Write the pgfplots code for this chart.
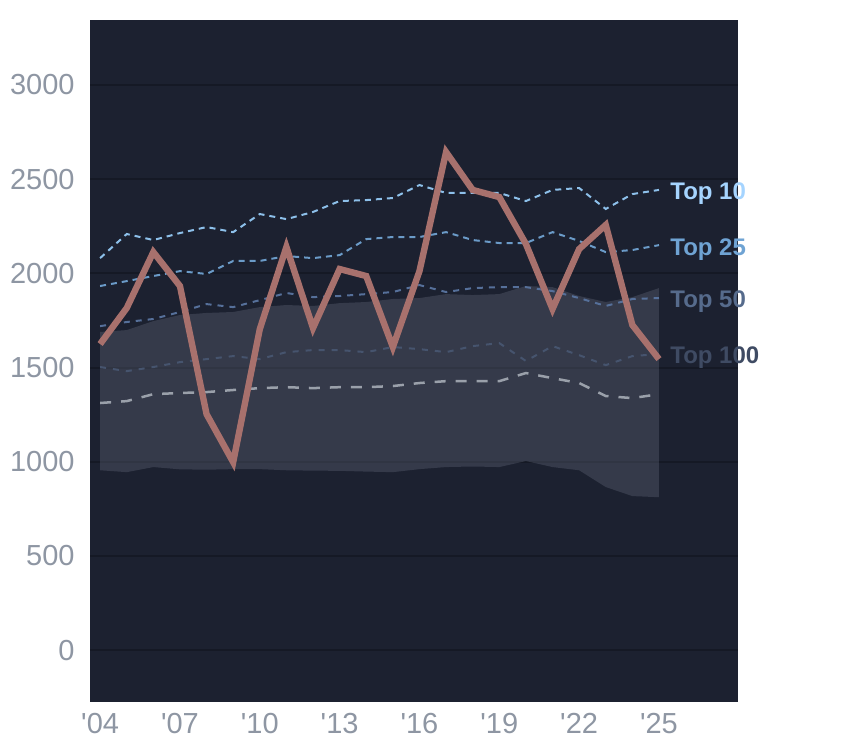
\documentclass[border=0pt]{standalone}
\usepackage{fontspec}
\setmainfont{Liberation Sans}
\usepackage{pgfplots}
\usepackage{pgfplotstable}
\pgfplotsset{compat=1.18}
\usepgfplotslibrary{fillbetween}
\definecolor{bg}{HTML}{1C2130}
\definecolor{gridc}{HTML}{151925}
\definecolor{bandc}{HTML}{5E6475}
\definecolor{tickc}{HTML}{8E96A3}
\definecolor{mainc}{HTML}{A8716D}
\definecolor{t10}{HTML}{8DC0EA}
\definecolor{t10l}{HTML}{A5D4FF}
\definecolor{t25}{HTML}{6B9BC8}
\definecolor{t25l}{HTML}{6FA3D3}
\definecolor{t50}{HTML}{56709A}
\definecolor{t50l}{HTML}{566B8C}
\definecolor{t100}{HTML}{46546E}
\definecolor{t100l}{HTML}{3F4B63}
\definecolor{medc}{HTML}{9AA0AA}
\pgfplotstableread{
year main top10 top25 top50 top100 med lo hi
2004 1625 2081 1933 1720 1503 1312 955 1689
2005 1816 2209 1959 1742 1481 1322 945 1699
2006 2113 2177 1986 1758 1503 1359 972 1747
2007 1933 2214 2012 1795 1529 1365 960 1779
2008 1253 2246 1997 1837 1545 1370 958 1790
2009 998 2219 2066 1821 1561 1381 961 1795
2010 1704 2315 2066 1858 1545 1391 961 1821
2011 2140 2288 2092 1896 1582 1396 955 1832
2012 1710 2326 2081 1874 1593 1391 953 1827
2013 2023 2384 2097 1880 1593 1396 952 1842
2014 1986 2389 2182 1890 1582 1396 948 1848
2015 1609 2400 2193 1901 1609 1402 945 1864
2016 2012 2469 2193 1938 1598 1418 961 1869
2017 2644 2427 2219 1901 1582 1428 972 1890
2018 2443 2427 2177 1922 1614 1428 975 1885
2019 2405 2427 2161 1927 1630 1428 972 1890
2020 2156 2384 2161 1927 1535 1471 1004 1933
2021 1811 2443 2219 1906 1614 1444 972 1927
2022 2129 2453 2172 1869 1566 1418 955 1880
2023 2257 2342 2113 1827 1513 1349 866 1848
2024 1726 2421 2124 1864 1561 1338 818 1874
2025 1545 2443 2150 1869 1572 1359 812 1922
}\data
\begin{document}
\begin{tikzpicture}
\begin{axis}[
  scale only axis, width=324pt, height=341pt,
  xmin=2003.62, xmax=2027.97, ymin=-275, ymax=3345,
  axis line style={draw=none},
  axis background/.style={fill=bg},
  major tick length=0pt,
  clip=false,
  ytick={0,500,...,3000},
  ymajorgrids,
  major grid style={draw=gridc, line width=1pt},
  xtick={2004,2007,...,2025},
  xticklabels={\textquotesingle04,\textquotesingle07,\textquotesingle10,\textquotesingle13,\textquotesingle16,\textquotesingle19,\textquotesingle22,\textquotesingle25},
  /pgf/number format/assume math mode=true,
  /pgf/number format/1000 sep={},
  ticklabel style={font=\fontsize{14.5}{17}\selectfont, text=tickc, inner sep=0pt},
  yticklabel style={anchor=east, xshift=-7.5pt},
  xticklabel style={anchor=north, yshift=-5.5pt},
]
\addplot[draw=none, name path=hi] table[x=year, y=hi] {\data};
\addplot[draw=none, name path=lo] table[x=year, y=lo] {\data};
\addplot[fill=bandc, fill opacity=0.38, draw=none] fill between[of=hi and lo];
\addplot[medc, line width=1.25pt, dash pattern=on 5.5pt off 5pt] table[x=year, y=med] {\data};
\addplot[t100, line width=1pt, dash pattern=on 3pt off 3.5pt] table[x=year, y=top100] {\data};
\addplot[t50, line width=1pt, dash pattern=on 3pt off 3pt] table[x=year, y=top50] {\data};
\addplot[t25, line width=1pt, dash pattern=on 3pt off 2.5pt] table[x=year, y=top25] {\data};
\addplot[t10, line width=1pt, dash pattern=on 3pt off 2.5pt] table[x=year, y=top10] {\data};
\addplot[mainc, line width=3.2pt, line join=miter, miter limit=4] table[x=year, y=main] {\data};
\node[anchor=west, inner sep=0pt, xshift=5.5pt, yshift=-2pt, text=t10l, font=\bfseries\fontsize{12}{14}\selectfont] at (axis cs:2025,2443) {Top 10};
\node[anchor=west, inner sep=0pt, xshift=5.5pt, yshift=-2pt, text=t25l, font=\bfseries\fontsize{12}{14}\selectfont] at (axis cs:2025,2150) {Top 25};
\node[anchor=west, inner sep=0pt, xshift=5.5pt, yshift=-2pt, text=t50l, font=\bfseries\fontsize{12}{14}\selectfont] at (axis cs:2025,1869) {Top 50};
\node[anchor=west, inner sep=0pt, xshift=5.5pt, yshift=-2pt, text=t100l, font=\bfseries\fontsize{12}{14}\selectfont] at (axis cs:2025,1572) {Top 100};
\end{axis}
\path (-45pt,-23pt) rectangle (377pt,351pt);
\end{tikzpicture}
\end{document}
